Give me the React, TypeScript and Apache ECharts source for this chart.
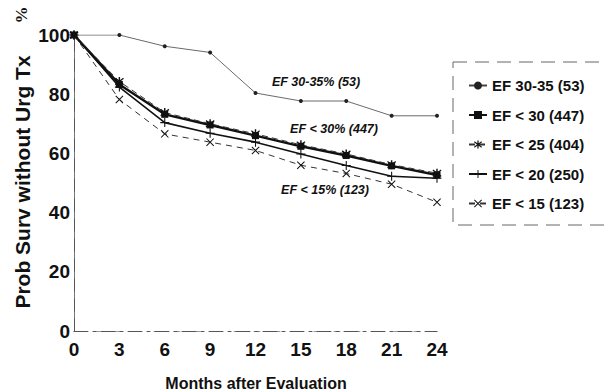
import React, { useEffect, useRef } from "react";
import * as echarts from "echarts";

const months = [0, 3, 6, 9, 12, 15, 18, 21, 24];
const ef3035 = [100, 100, 96.2, 94.1, 80.4, 77.7, 77.7, 72.7, 72.7];
const ef30 = [100, 83.3, 73.2, 69.6, 66.0, 62.4, 59.3, 55.8, 52.7];
const ef25 = [100, 84.3, 73.8, 70.0, 66.6, 62.9, 59.8, 56.2, 53.3];
const ef20 = [100, 82.4, 70.4, 66.8, 63.8, 59.8, 55.9, 52.3, 51.6];
const ef15 = [100, 78.2, 66.6, 63.8, 61.0, 56.0, 53.2, 49.6, 43.5];
const seriesNames = ["EF 30-35 (53)", "EF < 30 (447)", "EF < 25 (404)", "EF < 20 (250)", "EF < 15 (123)"];

const ASTER = "path://M4.3,0H5.7V10H4.3Z M0.6,2.1L1.3,0.9L9.4,7.9L8.7,9.1Z M8.7,0.9L9.4,2.1L1.3,9.1L0.6,7.9Z";
const XMARK = "path://M0,0.9L0.9,0L10,9.1L9.1,10Z M9.1,0L10,0.9L0.9,10L0,9.1Z";
const PLUS = "path://M4.4,0H5.6V10H4.4Z M0,4.4H10V5.6H0Z";

const pairs = (vals: number[]) => months.map((m, i) => [m, vals[i]]);

export default function App() {
  const ref = useRef<HTMLDivElement>(null);
  useEffect(() => {
    const chart = echarts.init(ref.current!, null, { renderer: "svg" });
    const ink = "#111";
    const bold = "'Liberation Sans', Arial, sans-serif";
    chart.setOption({
      animation: false,
      backgroundColor: "#fff",
      grid: { left: 74, right: 169, top: 35, bottom: 61 },
      xAxis: [
        {
          type: "value", min: 0, max: 24, interval: 3,
          axisLine: { show: true, lineStyle: { color: "#999", width: 1, type: [6, 14] } },
          axisTick: { show: false },
          splitLine: { show: false },
          axisLabel: {
            color: ink, fontWeight: "bold", fontSize: 19, margin: 9,
            fontFamily: "'Liberation Sans Narrow', 'Liberation Sans', Arial, sans-serif",
          },
        },
        {
          type: "value", min: 0, max: 24, interval: 3, position: "top",
          axisLine: { show: true, lineStyle: { color: "#555", width: 1, type: [14, 5, 3, 5] } },
          axisTick: { show: false }, axisLabel: { show: false }, splitLine: { show: false },
        },
      ],
      yAxis: [
        {
          type: "value", min: 0, max: 100, interval: 20,
          axisLine: { show: true, lineStyle: { color: "#777", width: 1 } },
          axisTick: { show: false },
          splitLine: { show: false },
          axisLabel: { color: ink, fontWeight: "bold", fontSize: 19, margin: 4, fontFamily: bold },
        },
        {
          type: "value", min: 0, max: 100, interval: 20, position: "right",
          axisLine: { show: true, lineStyle: { color: "#555", width: 1, type: [12, 8] } },
          axisTick: { show: false }, axisLabel: { show: false }, splitLine: { show: false },
        },
      ],
      legend: {
        orient: "vertical",
        left: 463, top: 73,
        itemWidth: 18, itemHeight: 10, itemGap: 14.5,
        textStyle: { color: ink, fontWeight: "bold", fontSize: 15, fontFamily: bold },
        data: seriesNames,
      },
      series: [
        {
          name: seriesNames[0], type: "line", data: pairs(ef3035),
          symbol: "circle", symbolSize: 4,
          lineStyle: { color: "#444", width: 0.8 },
          itemStyle: { color: "#222" },
        },
        {
          name: seriesNames[1], type: "line", data: pairs(ef30),
          symbol: "rect", symbolSize: 7,
          lineStyle: { color: ink, width: 2.4 },
          itemStyle: { color: ink },
        },
        {
          name: seriesNames[2], type: "line", data: pairs(ef25),
          symbol: ASTER, symbolSize: 9,
          lineStyle: { color: "#333", width: 1, type: [6, 4] },
          itemStyle: { color: ink },
        },
        {
          name: seriesNames[3], type: "line", data: pairs(ef20),
          symbol: PLUS, symbolSize: 9,
          lineStyle: { color: ink, width: 1.6 },
          itemStyle: { color: ink },
        },
        {
          name: seriesNames[4], type: "line", data: pairs(ef15),
          symbol: XMARK, symbolSize: 8,
          lineStyle: { color: "#333", width: 1, type: [6, 5] },
          itemStyle: { color: ink },
        },
      ],
      graphic: [
        {
          type: "rect", shape: { x: 453, y: 62, width: 170, height: 163 },
          style: { fill: "none", stroke: "#666", lineWidth: 1, lineDash: [14, 8] },
        },
        {
          type: "text", x: 22, y: 182, rotation: Math.PI / 2,
          style: {
            text: "Prob Surv without Urg Tx", fill: ink, font: "bold 21px 'Liberation Sans', Arial, sans-serif",
            textAlign: "center", textVerticalAlign: "middle",
          },
        },
        {
          type: "text", x: 21, y: 15, rotation: Math.PI / 2,
          style: {
            text: "%", fill: ink, font: "bold 17px 'Liberation Serif', serif",
            textAlign: "center", textVerticalAlign: "middle",
          },
        },
        {
          type: "text", x: 256, y: 383,
          style: {
            text: "Months after Evaluation", fill: ink, font: "bold 16px 'Liberation Sans', Arial, sans-serif",
            textAlign: "center", textVerticalAlign: "middle",
          },
        },
        {
          type: "text", x: 316, y: 82,
          style: {
            text: "EF 30-35% (53)", fill: ink, font: "italic bold 12.5px 'Liberation Sans', Arial, sans-serif",
            textAlign: "center", textVerticalAlign: "middle",
          },
        },
        {
          type: "text", x: 334, y: 129,
          style: {
            text: "EF < 30% (447)", fill: ink, font: "italic bold 12.5px 'Liberation Sans', Arial, sans-serif",
            textAlign: "center", textVerticalAlign: "middle",
          },
        },
        {
          type: "text", x: 325, y: 190,
          style: {
            text: "EF < 15% (123)", fill: ink, font: "italic bold 12.5px 'Liberation Sans', Arial, sans-serif",
            textAlign: "center", textVerticalAlign: "middle",
          },
        },
      ],
    });
    return () => chart.dispose();
  }, []);
  return (
    <div
      ref={ref}
      style={{ position: "fixed", left: 0, top: 0, width: 606, height: 392, background: "#fff" }}
    />
  );
}
